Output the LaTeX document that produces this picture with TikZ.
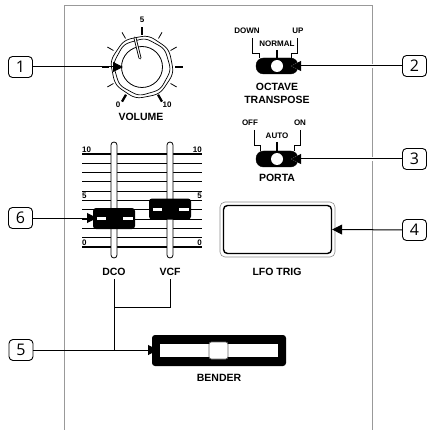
\documentclass[tikz,border=0pt]{standalone}
\usepackage{fontspec}
\setmainfont{Liberation Sans}
\newfontfamily\numfont{Open Sans}
\usetikzlibrary{arrows.meta,calc}
\begin{document}
\begin{tikzpicture}[x=1pt,y=-1pt,
  lab/.style={font=\fontsize{10.5}{11}\selectfont\bfseries, inner sep=0},
  smalllab/.style={font=\fontsize{8}{8}\selectfont\bfseries, inner sep=0},
  callout/.style={draw, line width=0.9, rounded corners=4pt, minimum width=24pt, minimum height=21pt, inner sep=0, font=\numfont\fontsize{16}{16}\selectfont},
  arr/.style={line width=1, -{Triangle[length=10pt,width=10pt]}},
  warr/.style={white, line width=3.2, -{Triangle[length=10pt,width=10pt]}},
  frame/.style={draw=black!40, line width=1},
  thinline/.style={line width=0.8},
  switchbody/.style={fill=black, rounded corners=7.5pt},
]
\useasboundingbox (0,0) rectangle (427,430);

% panel frame
\draw[frame] (64,430) -- (64,6) -- (372,6) -- (372,430);

% ---------- volume knob ----------
\coordinate (knob) at (142,67);
\begin{scope}[shift={(142,67)}]
  \draw[line width=0.7] plot[domain=0:356, samples=90, smooth cycle] (\x:{30.5+0.5*sin(8*\x)});
  \draw[line width=0.7] plot[domain=0:356, samples=90, smooth cycle] (\x:{27.5+0.5*sin(8*\x+40)});
  \draw[line width=0.8] (0,0) circle (20.5);
  \foreach \a in {150,180,210,240,300,330,30}
    \draw[line width=0.8] (\a:33) -- (\a:40);
  \foreach \a in {120,270,60}
    \draw[line width=2.3] (\a:32) -- (\a:40);
  \draw[line width=1.5] (0:33) -- (0:41);
\end{scope}
\draw[line width=2.8, line cap=round] ($(knob)+(-2,-9)$) -- ($(knob)+(-7,-29)$);
\draw[white, line width=1.1, line cap=round] ($(knob)+(-2,-9)$) -- ($(knob)+(-7,-29)$);
\node[smalllab] (k5) at (142,20) {5};
\node[smalllab] (k0) at (118,105) {0};
\node[smalllab] (k10) at (167,105) {10};
\node[lab] (volume) at (141,117) {VOLUME};

\node[callout] (c1) at (20.5,67) {1};
\coordinate (t1) at (123,67);
\draw[arr] (c1) -- (t1);

% ---------- octave transpose ----------
\node[smalllab] (down) at (247,31) {DOWN};
\node[smalllab] (up) at (298,31) {UP};
\node[smalllab] (normal) at (277,44) {NORMAL};
\draw[thinline] (252,38) -- (252,53) -- (259,53) -- (259,58);
\draw[thinline] (297,38) -- (297,53) -- (291,53) -- (291,58);
\draw[line width=1.2] (277,50) -- (277,58);
\draw[switchbody] (256,58) rectangle (298,74);
\fill[white] (277,66) circle (6);
\node[lab] (octave) at (277,87) {OCTAVE};
\node[lab] (transpose) at (277,99.5) {TRANSPOSE};
\node[callout] (c2) at (414.5,66) {2};
\coordinate (t2) at (291,66);
\draw[warr] (c2) -- (t2);
\draw[arr] (c2) -- (t2);

% ---------- porta ----------
\node[smalllab] (off) at (250,123) {OFF};
\node[smalllab] (on) at (300,123) {ON};
\node[smalllab] (auto) at (277,136) {AUTO};
\draw[thinline] (254,130) -- (254,145) -- (260,145) -- (260,151);
\draw[thinline] (300,130) -- (300,145) -- (294,145) -- (294,151);
\draw[line width=1.2] (277,142) -- (277,151);
\draw[switchbody] (256,151) rectangle (298,167);
\fill[white] (277,159) circle (6);
\node[lab] (porta) at (277,178) {PORTA};
\node[callout] (c3) at (414.5,159) {3};
\coordinate (t3) at (291,159);
\draw[warr] (c3) -- (t3);
\draw[arr] (c3) -- (t3);

% ---------- LFO trig ----------
\draw[black!45, line width=0.6, rounded corners=5pt] (220,202) rectangle (335,257);
\node[draw, line width=1.4, rounded corners=4pt, minimum width=108pt, minimum height=48pt, inner sep=0] (lfo) at (277.5,229.5) {};
\node[lab] (lfotrig) at (277,272) {LFO TRIG};
\node[callout] (c4) at (414.5,230) {4};
\draw[arr] (c4) -- (lfo.east);

% ---------- sliders ----------
\foreach \i in {0,...,10}
  \draw[line width=0.8] (82,{154+\i*9.3}) -- (202,{154+\i*9.3});
\foreach \i in {0,5,10}
  \draw[line width=1.8] (82,{154+\i*9.3}) -- (202,{154+\i*9.3});
\node[smalllab, anchor=south west] at (82,152.5) {10};
\node[smalllab, anchor=south east] at (202,152.5) {10};
\node[smalllab, anchor=south west] at (82,199) {5};
\node[smalllab, anchor=south east] at (202,199) {5};
\node[smalllab, anchor=south west] at (82,245.5) {0};
\node[smalllab, anchor=south east] at (202,245.5) {0};
\draw[fill=white, line width=0.8, rounded corners=3pt] (111,142) rectangle (117,258);
\draw[fill=white, line width=0.8, rounded corners=3pt] (167,142) rectangle (173,258);
\node[fill=black, rounded corners=3pt, minimum width=42pt, minimum height=21pt, inner sep=0] (dcocap) at (114,218.5) {};
\node[fill=black, rounded corners=3pt, minimum width=42pt, minimum height=21pt, inner sep=0] (vcfcap) at (170,209) {};
\draw[white, line width=3] ($(dcocap.west)+(4,0)$) -- ++(9,0);
\draw[white, line width=3] ($(dcocap.east)+(-12,0)$) -- ++(10,0);
\draw[white, line width=3] ($(vcfcap.west)+(4,0)$) -- ++(9,0);
\draw[white, line width=3] ($(vcfcap.east)+(-12,0)$) -- ++(10,0);
\node[lab] (dco) at (114,272) {DCO};
\node[lab] (vcf) at (170,272) {VCF};
\node[callout] (c6) at (20.5,218) {6};
\coordinate (t6) at (97,218);
\draw[arr] (c6) -- (t6);

% ---------- bender ----------
\fill[black, rounded corners=3pt] (152,335) rectangle (286,366);
\fill[white] (160,344) rectangle (278,357);
\draw[black!60, fill=white, rounded corners=2.5pt, line width=0.7] (209,342) rectangle (228,359);
\node[lab] (bender) at (219,378) {BENDER};

\coordinate (dcobot) at (114,279);
\coordinate (vcfbot) at (170,279);
\coordinate (jv) at (114,307);
\coordinate (j5) at (114,350);
\draw[line width=0.9] (dcobot) -- (j5);
\draw[line width=0.9] (vcfbot) |- (jv);
\node[callout] (c5) at (21,350) {5};
\coordinate (t5) at (158,350);
\draw[arr] (c5) -- (t5);
\end{tikzpicture}
\end{document}
